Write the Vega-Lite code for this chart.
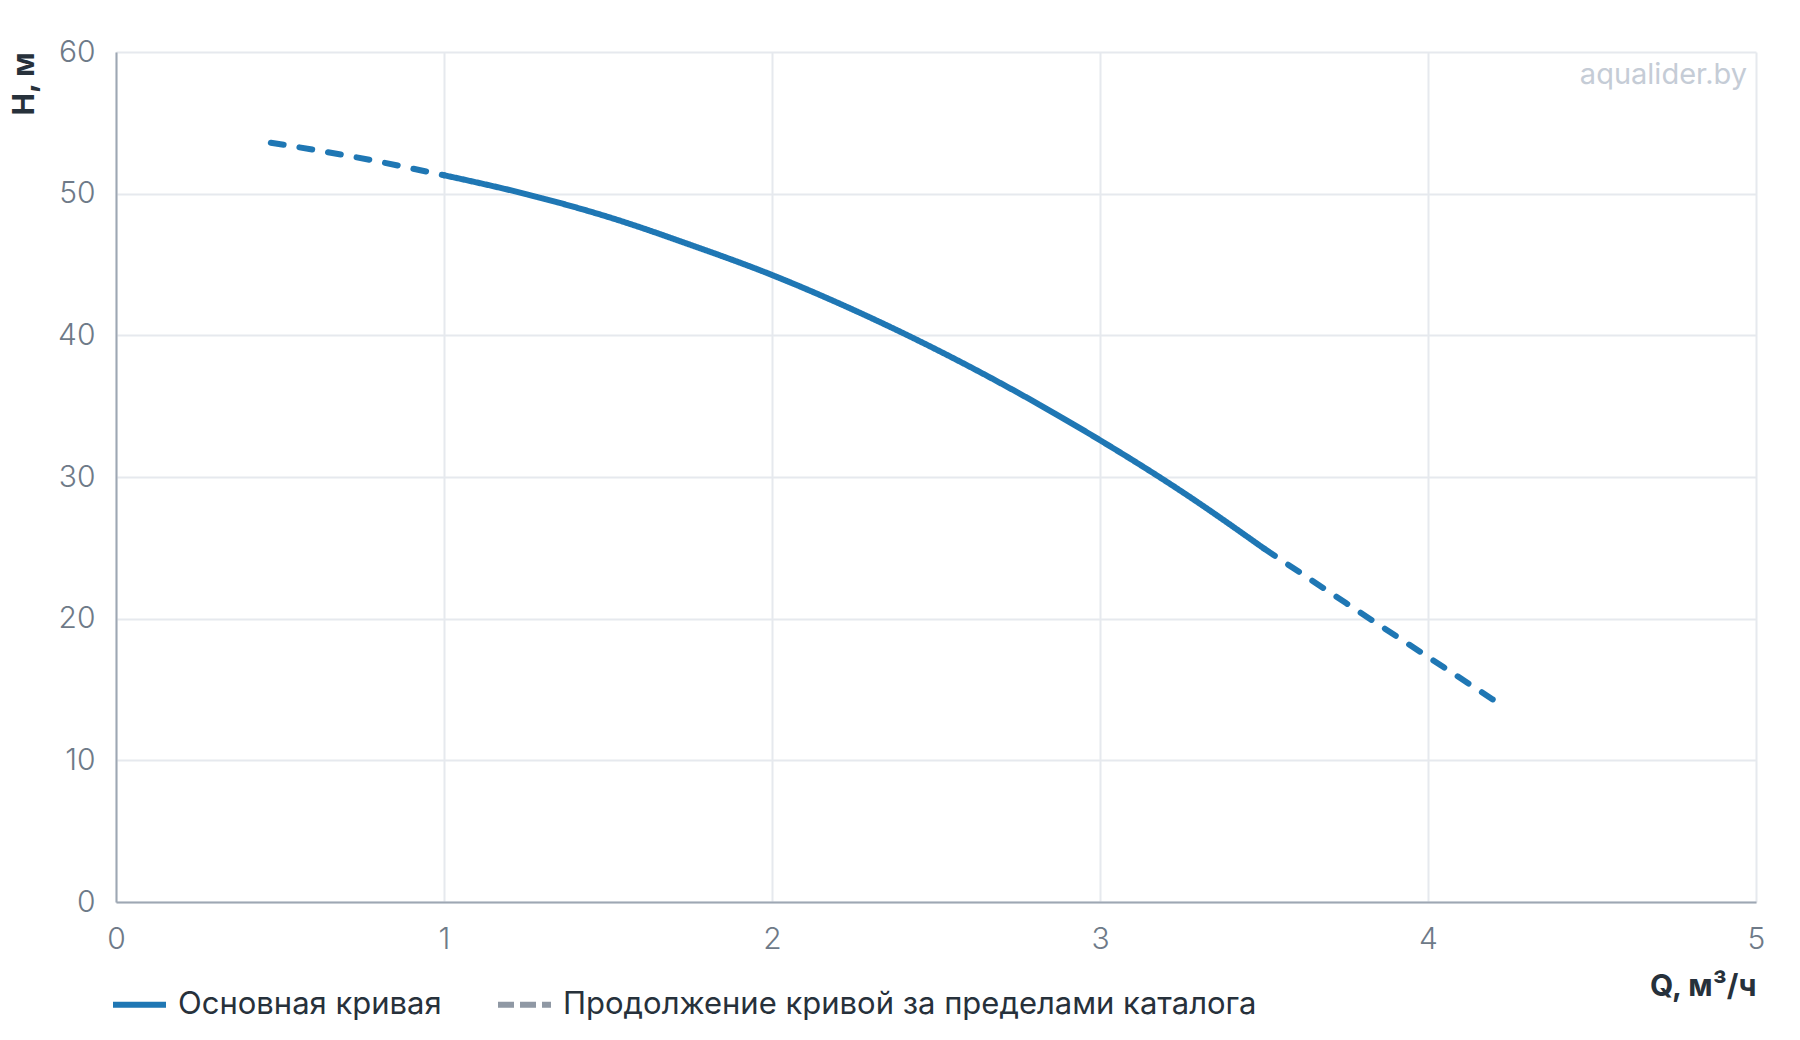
{
  "$schema": "https://vega.github.io/schema/vega-lite/v6.json",
  "width": 1640,
  "height": 850,
  "autosize": {"type": "none"},
  "padding": {"left": 116, "top": 52, "right": 44, "bottom": 138},
  "background": "white",
  "config": {"font": "Inter", "view": {"stroke": null}},
  "datasets": {
    "main": [
      {"q": 1.0, "h": 51.3, "series": "Основная кривая"},
      {"q": 1.25, "h": 49.97, "series": "Основная кривая"},
      {"q": 1.5, "h": 48.36, "series": "Основная кривая"},
      {"q": 1.75, "h": 46.4, "series": "Основная кривая"},
      {"q": 2.0, "h": 44.26, "series": "Основная кривая"},
      {"q": 2.25, "h": 41.78, "series": "Основная кривая"},
      {"q": 2.5, "h": 39.01, "series": "Основная кривая"},
      {"q": 2.75, "h": 35.95, "series": "Основная кривая"},
      {"q": 3.0, "h": 32.6, "series": "Основная кривая"},
      {"q": 3.25, "h": 28.96, "series": "Основная кривая"},
      {"q": 3.5, "h": 24.95, "series": "Основная кривая"}
    ],
    "ext": [
      {"q": 0.472, "h": 53.6, "seg": "left"},
      {"q": 0.734, "h": 52.56, "seg": "left"},
      {"q": 1.0, "h": 51.3, "seg": "left"},
      {"q": 3.5, "h": 24.95, "seg": "right"},
      {"q": 3.75, "h": 21.1, "seg": "right"},
      {"q": 4.0, "h": 17.3, "seg": "right"},
      {"q": 4.2, "h": 14.26, "seg": "right"}
    ],
    "mark": [{"q": 5, "h": 60, "label": "aqualider.by"}]
  },
  "layer": [
    {
      "data": {"name": "main"},
      "mark": {"type": "line", "strokeWidth": 6, "strokeCap": "round", "strokeJoin": "round", "interpolate": "monotone"},
      "encoding": {
        "x": {
          "field": "q", "type": "quantitative",
          "scale": {"domain": [0, 5], "nice": false, "zero": true},
          "axis": {
            "title": "Q, м³/ч", "values": [0, 1, 2, 3, 4, 5], "format": "d",
            "tickSize": 0, "labelPadding": 22, "labelFontSize": 30, "labelColor": "#6e7a88",
            "labelFont": "Inter", "labelFontWeight": 300,
            "domainColor": "#9ea7b3", "domainWidth": 2,
            "grid": true, "gridColor": "#e6e9ee", "gridWidth": 2,
            "titleFontSize": 30, "titleFontWeight": "bold", "titleColor": "#27313b",
            "titleX": 1640, "titleY": 84, "titleAlign": "right", "titleBaseline": "middle",
            "labelFlush": false
          }
        },
        "y": {
          "field": "h", "type": "quantitative",
          "scale": {"domain": [0, 60], "nice": false},
          "axis": {
            "title": "H, м", "values": [0, 10, 20, 30, 40, 50, 60],
            "tickSize": 0, "labelPadding": 21, "labelFontSize": 30, "labelColor": "#6e7a88",
            "labelFont": "Inter", "labelFontWeight": 300,
            "domainColor": "#9ea7b3", "domainWidth": 2,
            "grid": true, "gridColor": "#e6e9ee", "gridWidth": 2,
            "titleFontSize": 30, "titleFontWeight": "bold", "titleColor": "#27313b",
            "titleAngle": -90, "titleX": -92, "titleY": 0, "titleAlign": "right", "titleBaseline": "middle",
            "labelFlush": false
          }
        },
        "stroke": {
          "field": "series", "type": "nominal",
          "scale": {
            "domain": ["Основная кривая", "Продолжение кривой за пределами каталога"],
            "range": ["#1f77b4", "#8f98a4"]
          },
          "legend": {
            "title": null, "orient": "none", "legendX": -6, "legendY": 923,
            "direction": "horizontal", "columns": 2, "columnPadding": 44,
            "padding": 0,
            "symbolType": "stroke", "symbolSize": 2809, "symbolStrokeWidth": 6,
            "labelFontSize": 31, "labelColor": "#27313b", "labelFont": "Inter", "labelOffset": 9, "labelLimit": 1000
          }
        },
        "strokeDash": {
          "field": "series", "type": "nominal",
          "scale": {
            "domain": ["Основная кривая", "Продолжение кривой за пределами каталога"],
            "range": [[1, 0], [16, 6]]
          },
          "legend": {
            "title": null, "orient": "none", "legendX": -6, "legendY": 923,
            "direction": "horizontal", "columns": 2, "columnPadding": 44,
            "padding": 0,
            "symbolType": "stroke", "symbolSize": 2809, "symbolStrokeWidth": 6,
            "labelFontSize": 31, "labelColor": "#27313b", "labelFont": "Inter", "labelOffset": 9, "labelLimit": 1000
          }
        }
      }
    },
    {
      "data": {"name": "ext"},
      "mark": {"type": "line", "color": "#1f77b4", "strokeWidth": 6, "strokeCap": "round", "strokeJoin": "round", "strokeDash": [13, 16], "interpolate": "monotone"},
      "encoding": {
        "x": {"field": "q", "type": "quantitative"},
        "y": {"field": "h", "type": "quantitative"},
        "detail": {"field": "seg", "type": "nominal"}
      }
    },
    {
      "data": {"name": "mark"},
      "mark": {"type": "text", "align": "right", "baseline": "alphabetic", "dx": -9, "dy": 32, "fontSize": 29, "color": "#c5ccd6", "font": "Inter"},
      "encoding": {
        "x": {"field": "q", "type": "quantitative"},
        "y": {"field": "h", "type": "quantitative"},
        "text": {"field": "label"}
      }
    }
  ]
}
